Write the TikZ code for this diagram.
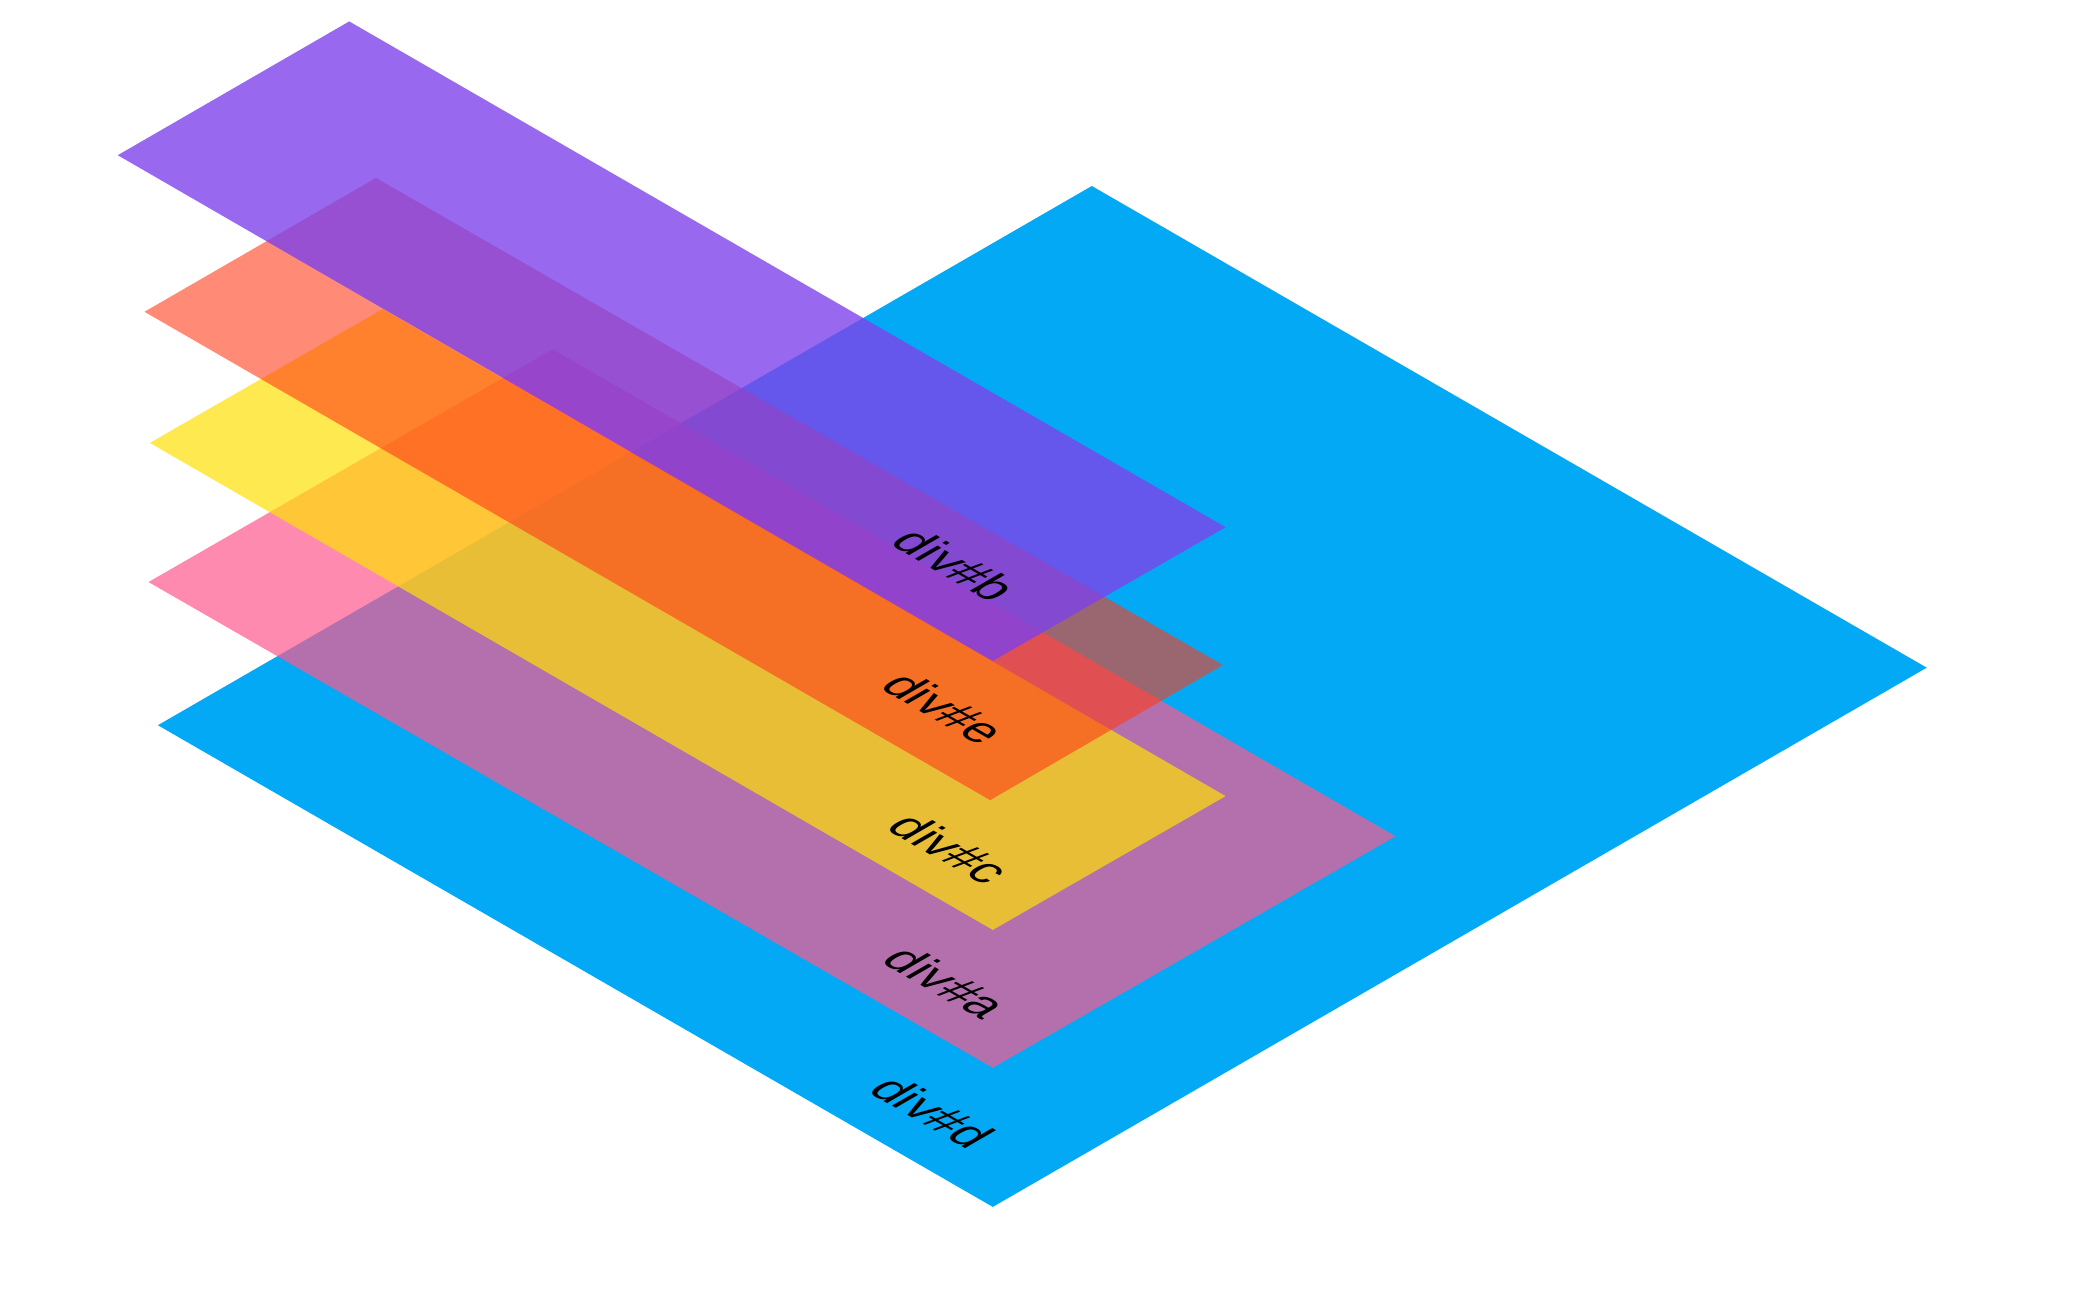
\documentclass[tikz,border=0pt]{standalone}
\usepackage{fontspec}
\setmainfont{Liberation Sans}
\definecolor{cBlue}{RGB}{3,169,244}
\definecolor{cPink}{RGB}{255,88,142}
\definecolor{cYellow}{RGB}{255,224,5}
\definecolor{cOrange}{RGB}{255,60,25}
\definecolor{cPurple}{RGB}{126,66,234}
\tikzset{
  layerlabel/.style={inner sep=0pt, font=\fontsize{37}{37}\selectfont, text=black,
    cm={0.866,-0.5,0.866,0.5,(0,0)}},
}
\begin{document}
\begin{tikzpicture}[x=1pt,y=-1pt]
\useasboundingbox (0,0) rectangle (1568,967);
% div#d
\fill[cBlue] (816,139) -- (1440,499) -- (742,902) -- (118,542) -- cycle;
\begin{scope}[shift={(697,831)}]\node[layerlabel] (ld) at (0,0) {div\#d};\end{scope}
% div#a
\fill[cPink, fill opacity=0.7] (413,261) -- (1043,625) -- (742,798) -- (111,435) -- cycle;
\begin{scope}[shift={(707,734)}]\node[layerlabel] (la) at (0,0) {div\#a};\end{scope}
% div#c
\fill[cYellow, fill opacity=0.7] (286,231) -- (916,595) -- (742,695) -- (112,331) -- cycle;
\begin{scope}[shift={(710,634)}]\node[layerlabel] (lc) at (0,0) {div\#c};\end{scope}
% div#e
\fill[cOrange, fill opacity=0.6] (281,133) -- (914,497) -- (740,598) -- (108,233) -- cycle;
\begin{scope}[shift={(706,529)}]\node[layerlabel] (le) at (0,0) {div\#e};\end{scope}
% div#b
\fill[cPurple, fill opacity=0.8] (261,16) -- (916,394) -- (742,494) -- (88,116) -- cycle;
\begin{scope}[shift={(714,422)}]\node[layerlabel] (lb) at (0,0) {div\#b};\end{scope}
\end{tikzpicture}
\end{document}
